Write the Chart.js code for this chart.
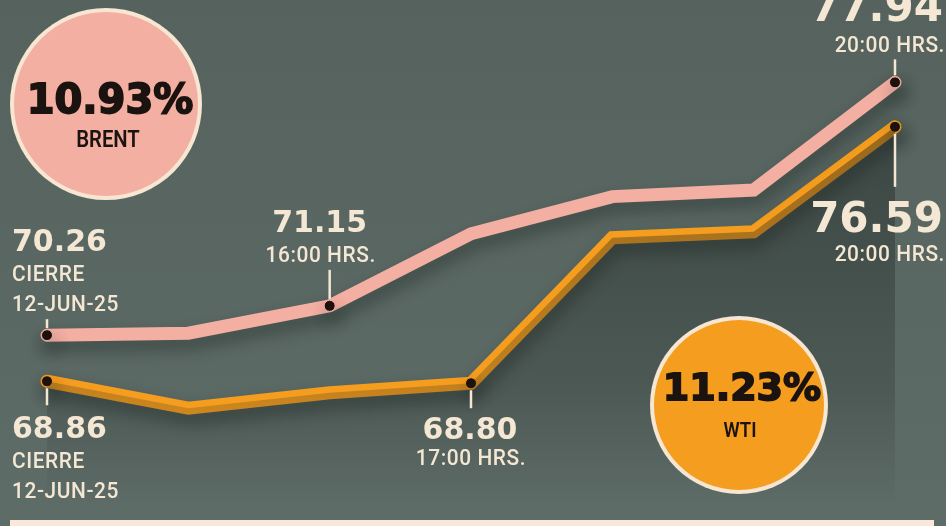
<!DOCTYPE html>
<html>
<head>
<meta charset="utf-8">
<script src="https://cdn.jsdelivr.net/npm/chart.js@4/dist/chart.umd.min.js"></script>
<style>
  html, body { margin: 0; padding: 0; background: #59665f; }
  #wrap { width: 946px; height: 526px; position: relative; }
</style>
</head>
<body>
<div id="wrap"><canvas id="c" width="946" height="526"></canvas></div>
<script>
// ---- data ----
const categories = ['CIERRE 12-JUN-25', '15:00', '16:00', '17:00', '18:00', '19:00', '20:00'];
const brentValues = [70.26, 70.32, 71.15, 73.34, 74.47, 74.67, 77.94];
const wtiValues   = [68.86, 68.04, 68.51, 68.80, 73.22, 73.40, 76.59];
const seriesNames = ['BRENT', 'WTI'];
const changePct   = ['10.93%', '11.23%'];
const brentNoteIdx = [0, 2, 6];
const wtiNoteIdx   = [0, 3, 6];
const brentNoteSub = [['CIERRE', '12-JUN-25'], ['16:00 HRS.'], ['20:00 HRS.']];
const wtiNoteSub   = [['CIERRE', '12-JUN-25'], ['17:00 HRS.'], ['20:00 HRS.']];

// ---- style ----
const CREAM = '#f4e7d4';
const PINK = '#f4afa3';
const ORANGE = '#f59d1e';
const DOT = '#1d120e';
const NUM_FONT = 'bold 30px "DejaVu Sans"';
const BIG_FONT = 'bold 42px "DejaVu Sans"';
const SUB_FONT = '500 22px Roboto';

function txt(ctx, s, x, y, font, align, sx, color, ls) {
  ctx.save();
  ctx.translate(x, y);
  ctx.scale(sx, 1);
  ctx.font = font;
  if (ls) ctx.letterSpacing = ls;
  ctx.textAlign = align;
  ctx.textBaseline = 'alphabetic';
  ctx.fillStyle = color;
  ctx.fillText(s, 0, 0);
  ctx.restore();
}

// note layouts: [align, dx, numOffset, bigFont, subOffsets, subDx, tickEnd]
const brentLayout = [
  ['left', -35, -84, false, [-54, -24], -35, -16],
  ['center', -10, -74, false, [-44], -9, -36],
  ['right', 48, -61, true, [-30], 50, -23]
];
const wtiLayout = [
  ['left', -35, 57, false, [87, 117], -35, 24],
  ['center', -1, 56, false, [82], 0, 25],
  ['right', 48, 105, true, [134], 50, 60]
];

const bgPlugin = {
  id: 'bg',
  beforeDraw(chart) {
    const ctx = chart.ctx;
    const g = ctx.createLinearGradient(0, 0, 0, chart.height);
    g.addColorStop(0, '#55625d');
    g.addColorStop(1, '#5e6c67');
    ctx.save();
    ctx.fillStyle = g;
    ctx.fillRect(0, 0, chart.width, chart.height);
    ctx.restore();
  }
};

const shadowPlugin = {
  id: 'lineShadow',
  beforeDatasetDraw(chart, args) {
    if (args.index === 0) return;
    const ctx = chart.ctx;
    ctx.save();
    ctx.shadowColor = 'rgba(20,26,24,0.42)';
    ctx.shadowBlur = 16;
    ctx.shadowOffsetX = 3;
    ctx.shadowOffsetY = 9;
  },
  afterDatasetDraw(chart, args) {
    if (args.index === 0) return;
    chart.ctx.restore();
  }
};

const notesPlugin = {
  id: 'notes',
  afterDatasetsDraw(chart) {
    const ctx = chart.ctx;
    const groups = [
      [1, brentValues, brentNoteIdx, brentNoteSub, brentLayout, -1],
      [2, wtiValues, wtiNoteIdx, wtiNoteSub, wtiLayout, 1]
    ];
    groups.forEach(([ds, vals, idxs, subs, lay, dir]) => {
      const meta = chart.getDatasetMeta(ds);
      idxs.forEach((i, k) => {
        const p = meta.data[i];
        const [align, dx, numOff, big, subOffs, subDx, tickEnd] = lay[k];
        ctx.save();
        ctx.strokeStyle = CREAM;
        ctx.lineWidth = 2.5;
        ctx.beginPath();
        ctx.moveTo(p.x, p.y + dir * 7);
        ctx.lineTo(p.x, p.y + tickEnd);
        ctx.stroke();
        ctx.restore();
        txt(ctx, vals[i].toFixed(2), p.x + dx, p.y + numOff, big ? BIG_FONT : NUM_FONT, align, 1, CREAM);
        subs[k].forEach((s, j) => {
          txt(ctx, s, p.x + subDx, p.y + subOffs[j], SUB_FONT, align, 0.95, CREAM, '0.6px');
        });
      });
    });

    // bubbles
    const bubbles = [
      [106, 104, 96, PINK, 110, 113, 147, 40, 23],
      [739, 405, 89, ORANGE, 742, 400, 437, 38, 21]
    ];
    bubbles.forEach(([cx, cy, r, col, tx, ty1, ty2, fs1, fs2], k) => {
      ctx.save();
      ctx.fillStyle = '#f7e6d2';
      ctx.beginPath(); ctx.arc(cx, cy, r, 0, Math.PI * 2); ctx.fill();
      ctx.fillStyle = col;
      ctx.beginPath(); ctx.arc(cx, cy, r - 4, 0, Math.PI * 2); ctx.fill();
      ctx.font = 'bold ' + fs1 + 'px "DejaVu Sans"';
      ctx.textAlign = 'center';
      ctx.fillStyle = '#1b1310';
      ctx.strokeStyle = '#1b1310';
      ctx.lineWidth = 1.8;
      ctx.fillText(changePct[k], tx, ty1);
      ctx.strokeText(changePct[k], tx, ty1);
      ctx.restore();
      txt(ctx, seriesNames[k], tx - 2, ty2, '600 ' + fs2 + 'px Roboto', 'center', 0.88, '#1b1310');
    });

    // bottom cream strip
    ctx.save();
    ctx.fillStyle = '#f8e8da';
    ctx.fillRect(10, 520, 924, 6);
    ctx.restore();
  }
};

const ctxEl = document.getElementById('c');
new Chart(ctxEl, {
  type: 'line',
  data: {
    labels: categories,
    datasets: [
      {
        data: wtiValues,
        borderWidth: 0,
        pointRadius: 0,
        fill: 'start',
        clip: false,
        backgroundColor: (c) => {
          const ch = c.chart;
          if (!ch.chartArea) return 'rgba(0,0,0,0)';
          const g = ch.ctx.createLinearGradient(0, 120, 0, 505);
          g.addColorStop(0, 'rgba(22,30,28,0.42)');
          g.addColorStop(0.7, 'rgba(22,30,28,0.22)');
          g.addColorStop(1, 'rgba(22,30,28,0)');
          return g;
        }
      },
      {
        label: seriesNames[0],
        data: brentValues,
        borderColor: PINK,
        borderWidth: 13,
        borderJoinStyle: 'miter',
        borderCapStyle: 'round',
        tension: 0,
        fill: false,
        clip: false,
        pointRadius: brentValues.map((v, i) => brentNoteIdx.includes(i) ? 5.5 : 0),
        pointBackgroundColor: DOT,
        pointBorderColor: PINK,
        pointBorderWidth: 1
      },
      {
        label: seriesNames[1],
        data: wtiValues,
        borderColor: ORANGE,
        borderWidth: 13,
        borderJoinStyle: 'miter',
        borderCapStyle: 'round',
        tension: 0,
        fill: false,
        clip: false,
        pointRadius: wtiValues.map((v, i) => wtiNoteIdx.includes(i) ? 5.5 : 0),
        pointBackgroundColor: DOT,
        pointBorderColor: ORANGE,
        pointBorderWidth: 1
      }
    ]
  },
  options: {
    responsive: false,
    animation: false,
    events: [],
    layout: { padding: { left: 47, right: 51, top: 0, bottom: 0 } },
    plugins: { legend: { display: false }, tooltip: { enabled: false } },
    scales: {
      x: { display: false, offset: false },
      y: { display: false, min: 64.66, max: 80.245 }
    }
  },
  plugins: [bgPlugin, shadowPlugin, notesPlugin]
});
</script>
</body>
</html>
